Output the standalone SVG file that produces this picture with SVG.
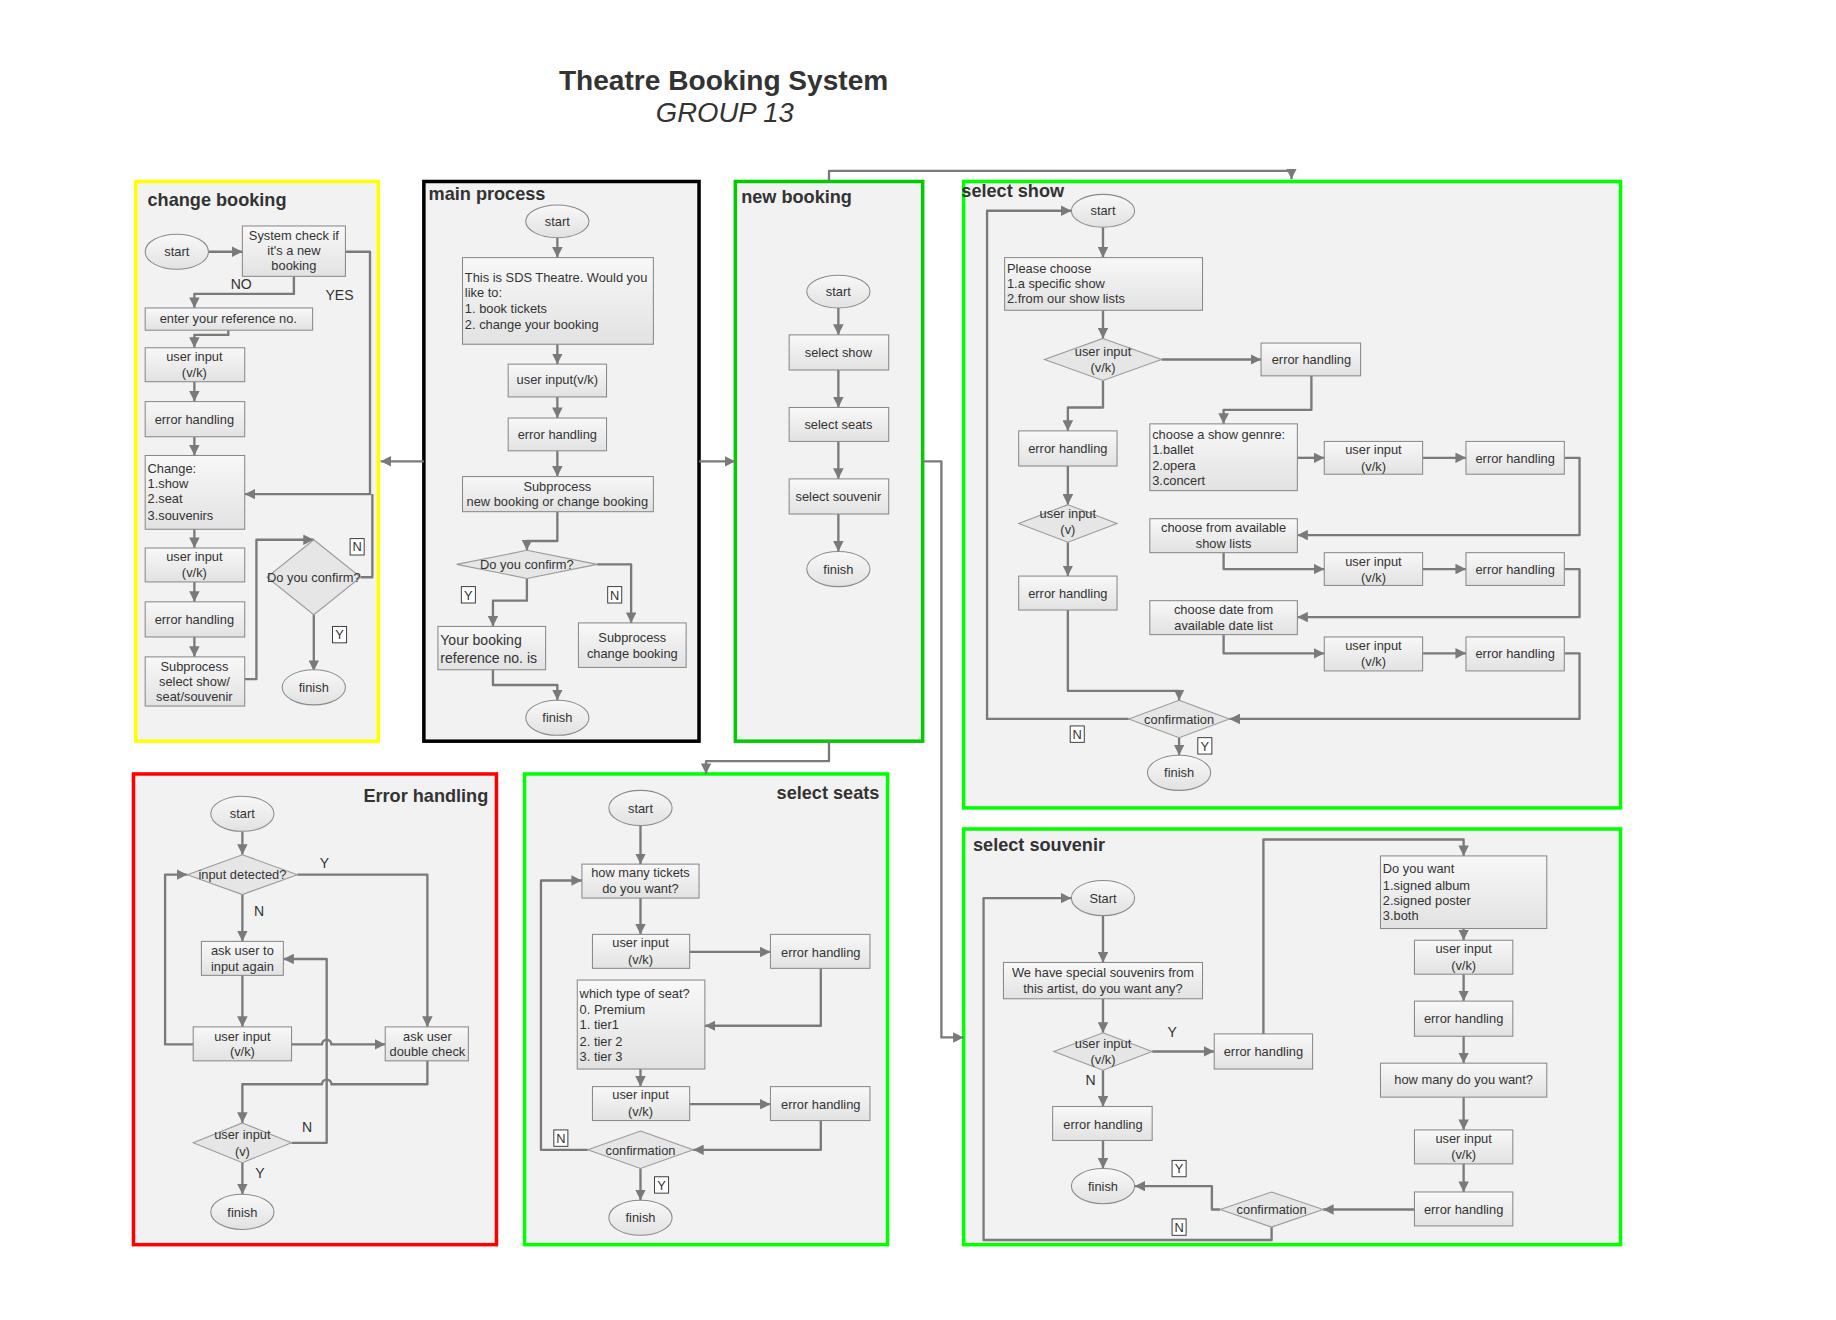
<svg xmlns="http://www.w3.org/2000/svg" width="1836" height="1320" viewBox="0 0 1836 1320">
<defs>
<linearGradient id="g" x1="0" y1="0" x2="0" y2="1"><stop offset="0" stop-color="#f8f8f8"/><stop offset="1" stop-color="#e2e2e2"/></linearGradient>
<marker id="a" viewBox="0 0 10 10" refX="10" refY="5" markerWidth="9" markerHeight="9" markerUnits="userSpaceOnUse" orient="auto"><path d="M0,0 L10,5 L0,10 z" fill="#7a7a7a"/></marker>
<style>
.c{fill:#f2f2f2;stroke-width:3}
.n{fill:url(#g);stroke:#8a8a8a;stroke-width:0.9}
.d{fill:#e6e6e6;stroke:#9a9a9a;stroke-width:0.9}
text{font-family:"Liberation Sans",Arial,sans-serif;font-size:11px;fill:#333}
.m{text-anchor:middle}
.r{text-anchor:end}
.h{font-weight:bold;font-size:15.5px;fill:#333}
.l{font-size:12px}
.e{fill:none;stroke:#7a7a7a;stroke-width:2;stroke-linejoin:round}
.ea{fill:none;stroke:#7a7a7a;stroke-width:2;stroke-linejoin:round;marker-end:url(#a)}
.lb{fill:#fff;stroke:#333;stroke-width:0.8}
</style>
</defs>
<rect width="1836" height="1320" fill="#fff"/>
<g transform="scale(1.1709)">
<g id="title">
<text x="618" y="77" class="m" style="font-size:24px;font-weight:bold">Theatre Booking System</text>
<text x="619" y="104" class="m" style="font-size:23.5px;font-style:italic">GROUP 13</text>
</g>
<g id="containers">
<g id="c-change"><rect x="116" y="155" width="207" height="478" class="c" stroke="#ffff00"/><text x="126" y="176" class="h">change booking</text></g>
<g id="c-main"><rect x="362" y="155" width="235" height="478" class="c" stroke="#000"/><text x="366" y="171" class="h">main process</text></g>
<g id="c-new"><rect x="628" y="155" width="160" height="478" class="c" stroke="#00cc00"/><text x="633" y="173" class="h">new booking</text></g>
<g id="c-show"><rect x="823" y="155" width="561" height="535" class="c" stroke="#00ff00"/><text x="821" y="168" class="h">select show</text></g>
<g id="c-error"><rect x="114" y="661" width="310" height="402" class="c" stroke="#ff0000"/><text x="417" y="685" class="h r">Error handling</text></g>
<g id="c-seats"><rect x="448" y="661" width="310" height="402" class="c" stroke="#00ff00"/><text x="751" y="682" class="h r">select seats</text></g>
<g id="c-souv"><rect x="823" y="708" width="561" height="355" class="c" stroke="#00ff00"/><text x="831" y="727" class="h">select souvenir</text></g>
</g>
<g id="connectors">
<path class="ea" d="M362,394 H325"/>
<path class="ea" d="M597,394 H628"/>
<path class="ea" d="M788,394 H804 V886 H823"/>
<path class="ea" d="M708,633 V650 H603 V661"/>
<path class="ea" d="M708,155 V146 H1103 V153"/>
<path class="ea" d="M178,215 H207"/>
<path class="ea" d="M251,236 V251 H166 V263"/>
<path class="ea" d="M195,282 V286 H166 V297"/>
<path class="ea" d="M166,326 V343"/>
<path class="ea" d="M166,373 V389"/>
<path class="ea" d="M166,452 V468"/>
<path class="ea" d="M166,497 V514"/>
<path class="ea" d="M166,544 V561"/>
<path class="ea" d="M295,215 H316 V422 H209"/>
<path class="e" d="M308,493 H318 V422"/>
<path class="ea" d="M209,580 H219 V461 H268"/>
<path class="ea" d="M268,525 V573"/>
<path class="ea" d="M476,203 V220"/>
<path class="ea" d="M476,294 V311"/>
<path class="ea" d="M476,339 V357"/>
<path class="ea" d="M476,385 V407"/>
<path class="ea" d="M476,437 V462 H450 V470"/>
<path class="ea" d="M450,494 V513 H421 V535"/>
<path class="ea" d="M510,482 H539 V532"/>
<path class="ea" d="M421,572 V585 H476 V598"/>
<path class="ea" d="M716,263 V286"/>
<path class="ea" d="M716,316 V348"/>
<path class="ea" d="M716,377 V409"/>
<path class="ea" d="M716,439 V471"/>
<path class="ea" d="M942,194 V220"/>
<path class="ea" d="M942,265 V289"/>
<path class="ea" d="M992,307 H1077"/>
<path class="ea" d="M1120,321 V350 H1045 V362"/>
<path class="ea" d="M942,325 V348 H912 V368"/>
<path class="ea" d="M1108,391 H1131"/>
<path class="ea" d="M1215,391 H1252"/>
<path class="ea" d="M1336,391 H1349 V457 H1108"/>
<path class="ea" d="M1045,472 V486 H1131"/>
<path class="ea" d="M1215,486 H1252"/>
<path class="ea" d="M1336,486 H1349 V527 H1108"/>
<path class="ea" d="M1045,542 V558 H1131"/>
<path class="ea" d="M1215,558 H1252"/>
<path class="ea" d="M1336,558 H1349 V614 H1050"/>
<path class="ea" d="M912,398 V431"/>
<path class="ea" d="M912,463 V492"/>
<path class="ea" d="M912,521 V590 H1007 V598"/>
<path class="ea" d="M964,614 H843 V180 H915"/>
<path class="ea" d="M1007,630 V645"/>
<path class="ea" d="M207,710 V730"/>
<path class="ea" d="M254,747 H365 V877"/>
<path class="ea" d="M207,764 V804"/>
<path class="ea" d="M207,833 V877"/>
<path class="ea" d="M165,892 H141 V747 H160"/>
<path class="ea" d="M249,892 H275 A4,4 0 0 1 283,892 H329"/>
<path class="ea" d="M365,906 V926 H283 A4,4 0 0 0 275,926 H207 V959"/>
<path class="ea" d="M249,976 H279 V819 H242"/>
<path class="ea" d="M207,993 V1020"/>
<path class="ea" d="M547,705 V738"/>
<path class="ea" d="M547,767 V798"/>
<path class="ea" d="M589,813 H658"/>
<path class="ea" d="M701,827 V876 H602"/>
<path class="ea" d="M547,913 V928"/>
<path class="ea" d="M589,943 H658"/>
<path class="ea" d="M701,957 V982 H592"/>
<path class="ea" d="M502,982 H462 V752 H497"/>
<path class="ea" d="M547,998 V1025"/>
<path class="ea" d="M942,782 V822"/>
<path class="ea" d="M942,853 V882"/>
<path class="ea" d="M984,898 H1037"/>
<path class="ea" d="M1079,883 V717 H1250 V731"/>
<path class="ea" d="M1250,793 V803"/>
<path class="ea" d="M1250,832 V855"/>
<path class="ea" d="M1250,885 V908"/>
<path class="ea" d="M1250,937 V965"/>
<path class="ea" d="M1250,994 V1018"/>
<path class="ea" d="M1208,1033 H1130"/>
<path class="ea" d="M1042,1033 H1035 V1013 H969"/>
<path class="ea" d="M1086,1048 V1059 H840 V767 H915"/>
<path class="ea" d="M942,914 V945"/>
<path class="ea" d="M942,974 V998"/>
</g>
<g id="labels">
<text x="197" y="247" class="l">NO</text>
<text x="278" y="256" class="l">YES</text>
<rect x="299" y="460" width="12" height="14" class="lb"/><text x="305" y="471" class="m">N</text>
<rect x="284" y="535" width="12" height="14" class="lb"/><text x="290" y="546" class="m">Y</text>
<rect x="394" y="501" width="12" height="14" class="lb"/><text x="400" y="512" class="m">Y</text>
<rect x="519" y="501" width="12" height="14" class="lb"/><text x="525" y="512" class="m">N</text>
<rect x="914" y="620" width="12" height="14" class="lb"/><text x="920" y="631" class="m">N</text>
<rect x="1023" y="630" width="12" height="14" class="lb"/><text x="1029" y="641" class="m">Y</text>
<text x="273" y="741" class="l">Y</text>
<text x="217" y="782" class="l">N</text>
<text x="258" y="967" class="l">N</text>
<text x="218" y="1006" class="l">Y</text>
<rect x="473" y="965" width="12" height="14" class="lb"/><text x="479" y="976" class="m">N</text>
<rect x="559" y="1005" width="12" height="14" class="lb"/><text x="565" y="1016" class="m">Y</text>
<text x="997" y="886" class="l">Y</text>
<text x="927" y="927" class="l">N</text>
<rect x="1001" y="991" width="12" height="14" class="lb"/><text x="1007" y="1002" class="m">Y</text>
<rect x="1001" y="1041" width="12" height="14" class="lb"/><text x="1007" y="1052" class="m">N</text>
</g>
<g id="cb-start"><ellipse cx="151" cy="215" rx="27" ry="15" class="n"/><text x="151" y="219" class="m">start</text></g>
<g id="cb-check"><rect x="207" y="193" width="88" height="43" class="n"/><text x="251" y="205" class="m">System check if</text><text x="251" y="218" class="m">it's a new</text><text x="251" y="231" class="m">booking</text></g>
<g id="cb-ref"><rect x="124" y="263" width="143" height="19" class="n"/><text x="195" y="276" class="m">enter your reference no.</text></g>
<g id="cb-in1"><rect x="124" y="297" width="85" height="29" class="n"/><text x="166" y="308" class="m">user input</text><text x="166" y="322" class="m">(v/k)</text></g>
<g id="cb-err1"><rect x="124" y="343" width="85" height="30" class="n"/><text x="166" y="362" class="m">error handling</text></g>
<g id="cb-change"><rect x="124" y="389" width="85" height="63" class="n"/><text x="126" y="404">Change:</text><text x="126" y="417">1.show</text><text x="126" y="430">2.seat</text><text x="126" y="444">3.souvenirs</text></g>
<g id="cb-in2"><rect x="124" y="468" width="85" height="29" class="n"/><text x="166" y="479" class="m">user input</text><text x="166" y="493" class="m">(v/k)</text></g>
<g id="cb-err2"><rect x="124" y="514" width="85" height="30" class="n"/><text x="166" y="533" class="m">error handling</text></g>
<g id="cb-sub"><rect x="124" y="561" width="85" height="42" class="n"/><text x="166" y="573" class="m">Subprocess</text><text x="166" y="586" class="m">select show/</text><text x="166" y="599" class="m">seat/souvenir</text></g>
<g id="cb-confirm"><path d="M268,461 L308,493 L268,525 L228,493 Z" class="d"/><text x="268" y="497" class="m">Do you confirm?</text></g>
<g id="cb-finish"><ellipse cx="268" cy="587" rx="27" ry="15" class="n"/><text x="268" y="591" class="m">finish</text></g>
<g id="mp-start"><ellipse cx="476" cy="189" rx="27" ry="14" class="n"/><text x="476" y="193" class="m">start</text></g>
<g id="mp-menu"><rect x="395" y="220" width="163" height="74" class="n"/><text x="397" y="241">This is SDS Theatre. Would you</text><text x="397" y="254">like to:</text><text x="397" y="267">1. book tickets</text><text x="397" y="281">2. change your booking</text></g>
<g id="mp-in"><rect x="434" y="311" width="84" height="28" class="n"/><text x="476" y="328" class="m">user input(v/k)</text></g>
<g id="mp-err"><rect x="434" y="357" width="84" height="28" class="n"/><text x="476" y="375" class="m">error handling</text></g>
<g id="mp-sub"><rect x="395" y="407" width="163" height="30" class="n"/><text x="476" y="419" class="m">Subprocess</text><text x="476" y="432" class="m">new booking or change booking</text></g>
<g id="mp-confirm"><path d="M450,470 L510,482 L450,494 L390,482 Z" class="d"/><text x="450" y="486" class="m">Do you confirm?</text></g>
<g id="mp-ref"><rect x="374" y="535" width="92" height="37" class="n"/><text x="376" y="551" style="font-size:12px">Your booking</text><text x="376" y="566" style="font-size:12px">reference no. is</text></g>
<g id="mp-change"><rect x="494" y="532" width="92" height="38" class="n"/><text x="540" y="548" class="m">Subprocess</text><text x="540" y="562" class="m">change booking</text></g>
<g id="mp-finish"><ellipse cx="476" cy="613" rx="27" ry="15" class="n"/><text x="476" y="617" class="m">finish</text></g>
<g id="nb-start"><ellipse cx="716" cy="249" rx="27" ry="14" class="n"/><text x="716" y="253" class="m">start</text></g>
<g id="nb-show"><rect x="674" y="286" width="85" height="30" class="n"/><text x="716" y="305" class="m">select show</text></g>
<g id="nb-seats"><rect x="674" y="348" width="85" height="29" class="n"/><text x="716" y="366" class="m">select seats</text></g>
<g id="nb-souv"><rect x="674" y="409" width="85" height="30" class="n"/><text x="716" y="428" class="m">select souvenir</text></g>
<g id="nb-finish"><ellipse cx="716" cy="486" rx="27" ry="15" class="n"/><text x="716" y="490" class="m">finish</text></g>
<g id="ss-start"><ellipse cx="942" cy="180" rx="27" ry="14" class="n"/><text x="942" y="184" class="m">start</text></g>
<g id="ss-choose"><rect x="858" y="220" width="169" height="45" class="n"/><text x="860" y="233">Please choose</text><text x="860" y="246">1.a specific show</text><text x="860" y="259">2.from our show lists</text></g>
<g id="ss-in1"><path d="M942,289 L992,307 L942,325 L892,307 Z" class="d"/><text x="942" y="304" class="m">user input</text><text x="942" y="318" class="m">(v/k)</text></g>
<g id="ss-err1"><rect x="1077" y="293" width="85" height="28" class="n"/><text x="1120" y="311" class="m">error handling</text></g>
<g id="ss-err2"><rect x="870" y="368" width="84" height="30" class="n"/><text x="912" y="387" class="m">error handling</text></g>
<g id="ss-in2"><path d="M912,431 L954,447 L912,463 L870,447 Z" class="d"/><text x="912" y="442" class="m">user input</text><text x="912" y="456" class="m">(v)</text></g>
<g id="ss-err3"><rect x="870" y="492" width="84" height="29" class="n"/><text x="912" y="511" class="m">error handling</text></g>
<g id="ss-genre"><rect x="982" y="362" width="126" height="57" class="n"/><text x="984" y="375">choose a show gennre:</text><text x="984" y="388">1.ballet</text><text x="984" y="401">2.opera</text><text x="984" y="414">3.concert</text></g>
<g id="ss-in3"><rect x="1131" y="377" width="84" height="28" class="n"/><text x="1173" y="388" class="m">user input</text><text x="1173" y="402" class="m">(v/k)</text></g>
<g id="ss-err4"><rect x="1252" y="377" width="84" height="28" class="n"/><text x="1294" y="395" class="m">error handling</text></g>
<g id="ss-list"><rect x="982" y="443" width="126" height="29" class="n"/><text x="1045" y="454" class="m">choose from available</text><text x="1045" y="468" class="m">show lists</text></g>
<g id="ss-in4"><rect x="1131" y="472" width="84" height="28" class="n"/><text x="1173" y="483" class="m">user input</text><text x="1173" y="497" class="m">(v/k)</text></g>
<g id="ss-err5"><rect x="1252" y="472" width="84" height="28" class="n"/><text x="1294" y="490" class="m">error handling</text></g>
<g id="ss-date"><rect x="982" y="513" width="126" height="29" class="n"/><text x="1045" y="524" class="m">choose date from</text><text x="1045" y="538" class="m">available date list</text></g>
<g id="ss-in5"><rect x="1131" y="544" width="84" height="29" class="n"/><text x="1173" y="555" class="m">user input</text><text x="1173" y="569" class="m">(v/k)</text></g>
<g id="ss-err6"><rect x="1252" y="544" width="84" height="29" class="n"/><text x="1294" y="562" class="m">error handling</text></g>
<g id="ss-confirm"><path d="M1007,598 L1050,614 L1007,630 L964,614 Z" class="d"/><text x="1007" y="618" class="m">confirmation</text></g>
<g id="ss-finish"><ellipse cx="1007" cy="660" rx="27" ry="15" class="n"/><text x="1007" y="664" class="m">finish</text></g>
<g id="eh-start"><ellipse cx="207" cy="695" rx="27" ry="15" class="n"/><text x="207" y="699" class="m">start</text></g>
<g id="eh-detect"><path d="M207,730 L254,747 L207,764 L160,747 Z" class="d"/><text x="207" y="751" class="m">input detected?</text></g>
<g id="eh-ask"><rect x="172" y="804" width="70" height="29" class="n"/><text x="207" y="816" class="m">ask user to</text><text x="207" y="829" class="m">input again</text></g>
<g id="eh-in"><rect x="165" y="877" width="84" height="29" class="n"/><text x="207" y="889" class="m">user input</text><text x="207" y="902" class="m">(v/k)</text></g>
<g id="eh-double"><rect x="329" y="877" width="71" height="29" class="n"/><text x="365" y="889" class="m">ask user</text><text x="365" y="902" class="m">double check</text></g>
<g id="eh-in2"><path d="M207,959 L249,976 L207,993 L165,976 Z" class="d"/><text x="207" y="973" class="m">user input</text><text x="207" y="987" class="m">(v)</text></g>
<g id="eh-finish"><ellipse cx="207" cy="1035" rx="27" ry="15" class="n"/><text x="207" y="1039" class="m">finish</text></g>
<g id="st-start"><ellipse cx="547" cy="690" rx="27" ry="15" class="n"/><text x="547" y="694" class="m">start</text></g>
<g id="st-many"><rect x="497" y="738" width="100" height="29" class="n"/><text x="547" y="749" class="m">how many tickets</text><text x="547" y="763" class="m">do you want?</text></g>
<g id="st-in1"><rect x="506" y="798" width="83" height="29" class="n"/><text x="547" y="809" class="m">user input</text><text x="547" y="823" class="m">(v/k)</text></g>
<g id="st-err1"><rect x="658" y="798" width="85" height="29" class="n"/><text x="701" y="817" class="m">error handling</text></g>
<g id="st-type"><rect x="493" y="837" width="109" height="76" class="n"/><text x="495" y="852">which type of seat?</text><text x="495" y="866">0. Premium</text><text x="495" y="879">1. tier1</text><text x="495" y="893">2. tier 2</text><text x="495" y="906">3. tier 3</text></g>
<g id="st-in2"><rect x="506" y="928" width="83" height="29" class="n"/><text x="547" y="939" class="m">user input</text><text x="547" y="953" class="m">(v/k)</text></g>
<g id="st-err2"><rect x="658" y="928" width="85" height="29" class="n"/><text x="701" y="947" class="m">error handling</text></g>
<g id="st-confirm"><path d="M547,966 L592,982 L547,998 L502,982 Z" class="d"/><text x="547" y="986" class="m">confirmation</text></g>
<g id="st-finish"><ellipse cx="547" cy="1040" rx="27" ry="15" class="n"/><text x="547" y="1044" class="m">finish</text></g>
<g id="sv-start"><ellipse cx="942" cy="767" rx="27" ry="15" class="n"/><text x="942" y="771" class="m">Start</text></g>
<g id="sv-ask"><rect x="857" y="822" width="170" height="31" class="n"/><text x="942" y="834" class="m">We have special souvenirs from</text><text x="942" y="848" class="m">this artist, do you want any?</text></g>
<g id="sv-in1"><path d="M942,882 L984,898 L942,914 L900,898 Z" class="d"/><text x="942" y="895" class="m">user input</text><text x="942" y="909" class="m">(v/k)</text></g>
<g id="sv-err1"><rect x="1037" y="883" width="84" height="30" class="n"/><text x="1079" y="902" class="m">error handling</text></g>
<g id="sv-err2"><rect x="899" y="945" width="85" height="29" class="n"/><text x="942" y="964" class="m">error handling</text></g>
<g id="sv-finish"><ellipse cx="942" cy="1013" rx="27" ry="15" class="n"/><text x="942" y="1017" class="m">finish</text></g>
<g id="sv-want"><rect x="1179" y="731" width="142" height="62" class="n"/><text x="1181" y="746">Do you want</text><text x="1181" y="760">1.signed album</text><text x="1181" y="773">2.signed poster</text><text x="1181" y="786">3.both</text></g>
<g id="sv-in2"><rect x="1208" y="803" width="84" height="29" class="n"/><text x="1250" y="814" class="m">user input</text><text x="1250" y="828" class="m">(v/k)</text></g>
<g id="sv-err3"><rect x="1208" y="855" width="84" height="30" class="n"/><text x="1250" y="874" class="m">error handling</text></g>
<g id="sv-many"><rect x="1179" y="908" width="142" height="29" class="n"/><text x="1250" y="926" class="m">how many do you want?</text></g>
<g id="sv-in3"><rect x="1208" y="965" width="84" height="29" class="n"/><text x="1250" y="976" class="m">user input</text><text x="1250" y="990" class="m">(v/k)</text></g>
<g id="sv-err4"><rect x="1208" y="1018" width="84" height="29" class="n"/><text x="1250" y="1037" class="m">error handling</text></g>
<g id="sv-confirm"><path d="M1086,1018 L1130,1033 L1086,1048 L1042,1033 Z" class="d"/><text x="1086" y="1037" class="m">confirmation</text></g>
</g>
</svg>
